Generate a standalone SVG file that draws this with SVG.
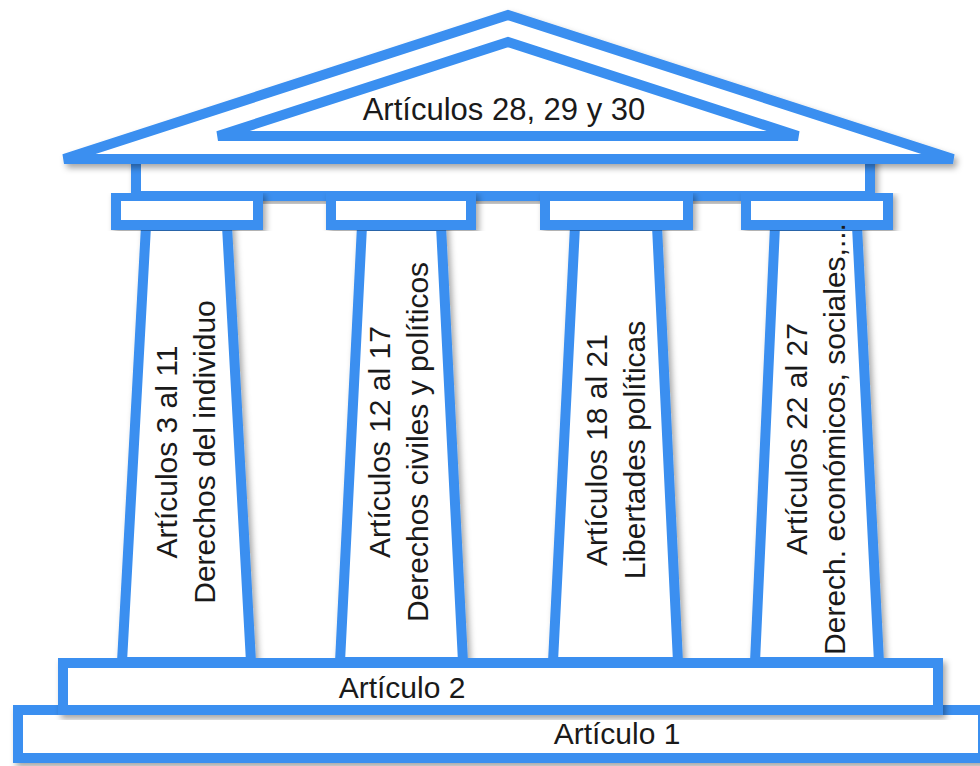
<svg xmlns="http://www.w3.org/2000/svg" width="980" height="766" viewBox="0 0 980 766">
  <defs>
    <filter id="sh" x="-10%" y="-10%" width="125%" height="130%">
      <feDropShadow dx="3" dy="4" stdDeviation="3" flood-color="#000" flood-opacity="0.35"/>
    </filter>
  </defs>
  <style>
    .s { fill: #ffffff; stroke: #3a8ff0; stroke-width: 10; filter: url(#sh); }
    .t { font-family: "Liberation Sans", Arial, sans-serif; font-size: 30px; fill: #1a1a1a; text-anchor: middle; }
  </style>
  <rect width="980" height="766" fill="#ffffff"/>

  <g id="columns">
    <g id="col1"><polygon class="s" points="146,226 227,226 251,662 122,662"/></g>
    <g id="col2"><polygon class="s" points="362,226 441,226 463,662 340,662"/></g>
    <g id="col3"><polygon class="s" points="575,226 657,226 678,662 553,662"/></g>
    <g id="col4"><polygon class="s" points="775,226 857,226 879,662 755,662"/></g>
  </g>

  <g id="step1"><rect class="s" x="18" y="710" width="965" height="48"/></g>
  <g id="step2"><rect class="s" x="63" y="663" width="875" height="47"/></g>

  <g id="frieze"><rect class="s" x="136" y="159" width="734" height="37"/></g>

  <g id="capitals">
    <rect class="s" x="116" y="196" width="142" height="29"/>
    <rect class="s" x="331" y="196" width="140" height="29"/>
    <rect class="s" x="545" y="196" width="143" height="29"/>
    <rect class="s" x="746" y="196" width="142" height="29"/>
  </g>

  <g id="roof">
    <polygon class="s" points="64,159 508,15 953,159"/>
    <polygon class="s" points="218,136 508,42 798,136" style="filter:none"/>
    <text class="t" x="504" y="120" style="font-size:31px">Artículos 28, 29 y 30</text>
  </g>

  <g id="labels">
    <text class="t" x="402" y="698">Artículo 2</text>
    <text class="t" x="617" y="744">Artículo 1</text>
    <g transform="translate(0,452) rotate(-90)">
      <text class="t" x="0" y="177">Artículos 3 al 11</text>
      <text class="t" x="0" y="215">Derechos del individuo</text>
    </g>
    <g transform="translate(0,442) rotate(-90)">
      <text class="t" x="0" y="390">Artículos 12 al 17</text>
      <text class="t" x="0" y="428">Derechos civiles y políticos</text>
    </g>
    <g transform="translate(0,450) rotate(-90)">
      <text class="t" x="0" y="607">Artículos 18 al 21</text>
      <text class="t" x="0" y="645">Libertades políticas</text>
    </g>
    <g transform="translate(0,439) rotate(-90)">
      <text class="t" x="0" y="807">Artículos 22 al 27</text>
      <text class="t" x="0" y="845">Derech. económicos, sociales,...</text>
    </g>
  </g>
</svg>
